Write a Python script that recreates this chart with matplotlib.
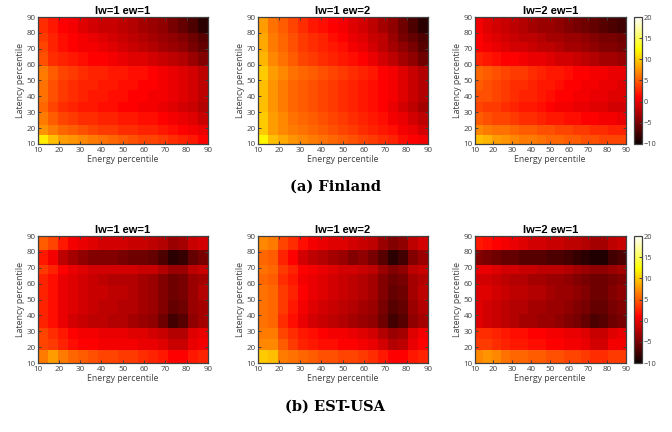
import matplotlib
matplotlib.use('Agg')
import matplotlib.pyplot as plt

titles = ['lw=1 ew=1', 'lw=1 ew=2', 'lw=2 ew=1']
captions = ['(a) Finland', '(b) EST-USA']
ticks = [10, 20, 30, 40, 50, 60, 70, 80, 90]
cbar_ticks = [-10, -5, 0, 5, 10, 15, 20]

x_edges = [10, 14.7, 19.4, 24.1, 28.8, 33.5, 38.2, 42.9, 47.6, 52.4, 57.1, 61.8, 66.5, 71.2, 75.9, 80.6, 85.3, 90]
y_edges_fi = [10, 15.5, 22, 30, 36.5, 44, 50, 59, 68, 74, 80, 90]
y_edges_us = [10, 18.5, 25, 32, 41, 50, 59, 66, 72, 81, 90]

# rows go bottom to top
fi_11 = [
    [11.5, 9.5, 8, 7.5, 7, 6.5, 6, 5.5, 5, 4.5, 4, 4, 3.5, 3, 2.5, 2, 1],
    [7.5, 6.5, 5.5, 5, 4.5, 4, 3.5, 3.5, 3, 3, 2.5, 2.5, 2, 1.5, 1, 0.5, 0],
    [6.5, 5, 4, 3.5, 3, 3, 2.5, 2.5, 2, 2, 1.5, 1.5, 1, 0.5, 0, -0.5, -1.5],
    [5.5, 4, 3, 2.5, 2, 2, 1.5, 1.5, 1, 1, 0.5, 0.5, 0, -0.5, -1, -1.5, -2.5],
    [6, 4.5, 3.5, 3, 2.5, 2, 2, 1.5, 1.5, 1, 1, 0.5, 0.5, 0, -0.5, -1, -2],
    [6, 4.5, 3.5, 3, 2.5, 2.5, 2, 2, 1.5, 1.5, 1, 1, 0.5, 0, -0.5, -1, -2],
    [6.5, 5, 4, 3.5, 3, 2.5, 2.5, 2, 2, 1.5, 1.5, 1, 0.5, 0, -0.5, -1, -2],
    [4.5, 3, 2.5, 2, 1.5, 1, 1, 0.5, 0, -0.5, -0.5, -1, -1.5, -2, -2.5, -3.5, -4.5],
    [4, 2.5, 1.5, 1, 0.5, 0.5, 0, -0.5, -1, -1.5, -2, -2.5, -3, -3.5, -4, -5, -6],
    [3.5, 2.5, 1.5, 1, 0.5, 0, -0.5, -1, -1.5, -2, -2.5, -3, -3.5, -4, -4.5, -5.5, -6.5],
    [3, 2, 1, 0.5, -0.5, -1, -1.5, -1.5, -2, -2.5, -3, -3.5, -4, -5, -6, -7, -8.5],
]
fi_12 = [
    [12, 9.5, 8.5, 7.5, 7, 6.5, 6, 5.5, 5, 4.5, 4, 3.5, 3, 2.5, 1.5, 1, 0.5],
    [10, 8, 7, 6.5, 6, 5.5, 5, 4.5, 4, 3.5, 3, 2.5, 2, 1.5, 0.5, 0, -1],
    [10, 8, 7, 6, 5.5, 5, 4.5, 4, 3.5, 3, 2.5, 2, 1.5, 0.5, 0, -1, -2],
    [9.5, 7.5, 6.5, 5.5, 5, 4.5, 4, 3.5, 3, 2.5, 2, 1.5, 1, 0, -1, -2, -3],
    [9.5, 7.5, 6.5, 5.5, 5, 4.5, 4, 3.5, 3, 2.5, 2, 1.5, 1, 0.5, -0.5, -1.5, -2.5],
    [9.5, 7.5, 6.5, 5.5, 5, 4.5, 4, 3.5, 3, 2.5, 2, 1.5, 1, 0.5, -0.5, -1.5, -2.5],
    [10, 8, 7, 6, 5.5, 5, 4.5, 4, 3.5, 3, 2.5, 2, 1, 0.5, -0.5, -1.5, -2.5],
    [9, 7, 6, 5, 4, 3.5, 3, 2.5, 2, 1.5, 1, 0, -1, -2, -3, -4, -5.5],
    [8.5, 6.5, 5.5, 4.5, 3.5, 3, 2.5, 2, 1.5, 0.5, 0, -1, -2, -3, -4, -5, -6.5],
    [8.5, 6.5, 5.5, 4.5, 3.5, 3, 2.5, 1.5, 1, 0, -0.5, -1.5, -2, -3.5, -5, -6, -7],
    [8, 6, 5, 4, 3, 2, 1.5, 1, 0.5, -0.5, -1, -2, -3, -4, -5.5, -7, -8.5],
]
fi_21 = [
    [9.5, 9, 8, 7.5, 7, 6.5, 6.5, 6, 5.5, 5.5, 5, 5, 4.5, 4.5, 4, 4, 4],
    [7, 6.5, 6, 6, 5.5, 5, 5, 4.5, 4.5, 4, 4, 3.5, 3.5, 3, 3, 2.5, 2.5],
    [5, 4.5, 4, 4, 3.5, 3, 3, 2.5, 2, 2, 1.5, 1.5, 1, 1, 0.5, 0.5, 0],
    [4, 3.5, 3.5, 3, 2.5, 2, 2, 1.5, 1, 0.5, 0.5, 0, 0, -0.5, -0.5, -1, -1],
    [4.5, 4.5, 4, 3.5, 3, 2.5, 2.5, 2, 1.5, 1, 1, 0.5, 0.5, 0, 0, -0.5, -0.5],
    [5, 4.5, 4, 3.5, 3, 3, 2.5, 2, 2, 1.5, 1, 1, 0.5, 0.5, 0, 0, -0.5],
    [5.5, 5, 4.5, 4, 3.5, 3.5, 3, 2.5, 2, 2, 1.5, 1, 1, 0.5, 0.5, 0, 0],
    [2.5, 2, 1.5, 1, 1, 0.5, 0, 0, -0.5, -1, -1, -1.5, -2, -2.5, -3, -3, -3.5],
    [1, 0.5, 0, -0.5, -1, -1, -1.5, -2, -2, -2.5, -3, -3, -3.5, -4, -4.5, -4.5, -5],
    [1, 0, -0.5, -1, -1.5, -2, -2, -2.5, -3, -3, -3.5, -3.5, -4, -4.5, -5, -5, -5.5],
    [0.5, -0.5, -1, -1.5, -2, -2.5, -3, -3.5, -3.5, -4, -4.5, -5, -5.5, -6, -6.5, -7, -7.5],
]
us_11 = [
    [6.5, 8, 6.5, 5.5, 5, 4.5, 4, 4, 3.5, 3.5, 3, 2.5, 2, 1, 1, 2, 2.5],
    [4, 3.5, 2.5, 1.5, 1, 1, 0.5, 0.5, 0.5, 0.5, 0, 0, -0.5, -1.5, -1.5, 0, 0.5],
    [4, 3, 2, 1, 0.5, 0.5, 0, 0, 0, -0.5, -0.5, -1, -1.5, -2.5, -2.5, -0.5, 0],
    [2.5, 1.5, 0, -1, -1.5, -2, -2, -2.5, -2.5, -3, -3.5, -4, -5.5, -7.5, -6.5, -4, -3],
    [2.5, 1.5, 0, -0.5, -1, -1.5, -2, -2, -2.5, -2.5, -3, -3.5, -4.5, -6, -5.5, -3.5, -3],
    [2.5, 1.5, 0, -0.5, -1, -1.5, -1.5, -2, -2, -2.5, -3, -3.5, -4.5, -5.5, -5, -3.5, -2.5],
    [2.5, 1.5, 0, -0.5, -1, -1.5, -2, -2.5, -2.5, -2.5, -3, -3.5, -4.5, -5.5, -5, -3.5, -3],
    [3.5, 2.5, 1, 0, -0.5, -1, -1, -1, -1, -1, -1.5, -1.5, -2.5, -3.5, -3.5, -2, -1.5],
    [2, 0.5, -2, -3, -4, -4.5, -4.5, -4.5, -5, -5.5, -5.5, -6, -7, -8.5, -8, -6, -5],
    [5, 4, 2, 0.5, 0, -0.5, -1, -1, -1, -1.5, -1.5, -2, -2.5, -3.5, -3, -1.5, -1],
]
us_12 = [
    [10, 9.5, 6.5, 6, 5.5, 5, 4.5, 4.5, 4, 4, 3.5, 3, 2, 1, 1, 2, 2.5],
    [7, 7, 5, 3.5, 2.5, 2, 1.5, 1.5, 1, 1, 0.5, 0, -1, -2.5, -2, 0, 1],
    [6.5, 6.5, 4, 3, 2, 1.5, 1, 0.5, 0.5, 0, -0.5, -1, -2.5, -3.5, -3, -0.5, 0.5],
    [6, 5.5, 3, 1.5, 0, -1, -1.5, -2, -2.5, -3, -3.5, -4, -5.5, -7.5, -6.5, -4, -3],
    [6, 5.5, 3.5, 2, 0.5, -0.5, -1, -1.5, -2, -2.5, -3, -3.5, -5, -6.5, -6, -3.5, -2.5],
    [6, 5.5, 3.5, 2.5, 1, 0, -0.5, -1, -1.5, -2, -2.5, -3, -4.5, -6, -5.5, -3, -2],
    [5.5, 5, 3, 2, 0.5, 0, -0.5, -1, -1.5, -2, -2.5, -3, -4.5, -5.5, -5, -3, -2.5],
    [6, 5.5, 3.5, 2.5, 1, 0.5, 0, -0.5, -1, -1, -1.5, -2, -3.5, -4.5, -4, -2, -1.5],
    [5.5, 5, 2.5, 1, -1, -2, -2.5, -3, -3.5, -4.5, -4, -5, -6.5, -8.5, -7.5, -4.5, -3.5],
    [7, 6.5, 4, 3, 1.5, 0.5, 0, -0.5, -0.5, -1, -1.5, -2, -3.5, -4.5, -4, -2, -1],
]
us_21 = [
    [7, 7.5, 7, 6, 5.5, 5.5, 5, 5, 4.5, 4.5, 4, 4, 3.5, 3, 3, 3.5, 3.5],
    [3.5, 3.5, 3, 2.5, 2, 2, 1.5, 1.5, 1, 1, 0.5, 0.5, 0, -1, -1, 0.5, 0.5],
    [3, 3, 2.5, 2, 1.5, 1.5, 1, 1, 0.5, 0.5, 0, 0, -0.5, -1.5, -1.5, -0.5, 0],
    [-0.5, -1, -1.5, -2, -2.5, -3, -3, -3.5, -3.5, -4, -4.5, -5, -6, -7, -6.5, -5.5, -5],
    [-0.5, -1, -1.5, -2, -2.5, -2.5, -3, -3, -3.5, -3.5, -4, -4.5, -5, -6, -6, -5, -4.5],
    [-0.5, -0.5, -1, -1.5, -2, -2, -2.5, -2.5, -3, -3.5, -3.5, -4, -4.5, -5.5, -5.5, -4.5, -4],
    [-1, -1, -1.5, -2, -2.5, -2.5, -3, -3, -3.5, -3.5, -4, -4.5, -5, -5.5, -5.5, -5, -4.5],
    [0, 0, -0.5, -1, -1, -1.5, -1.5, -2, -2, -2, -2.5, -3, -3.5, -4, -4, -3.5, -3],
    [-4.5, -5, -5.5, -6, -6, -6.5, -6.5, -6.5, -7, -7, -7.5, -8, -8.5, -9, -9, -7.5, -7],
    [2, 1.5, 1, 0.5, 0, -0.5, -1, -1, -1.5, -1.5, -2, -2, -2.5, -3, -3, -2, -1.5],
]

grey = '#404040'
W, H = 672.0, 432.0

plt.rcParams['font.family'] = ['Open Sans', 'DejaVu Sans']
fig = plt.figure(figsize=(6.72, 4.32), dpi=100)


def add_heatmap(box, data, y_edges, title):
    x0, y0, x1, y1 = box
    ax = fig.add_axes([x0 / W, 1 - y1 / H, (x1 - x0) / W, (y1 - y0) / H])
    mesh = ax.pcolormesh(x_edges, y_edges, data, cmap='hot', vmin=-10, vmax=20)
    ax.set_xlim(10, 90)
    ax.set_ylim(10, 90)
    ax.set_xticks(ticks)
    ax.set_yticks(ticks)
    ax.tick_params(direction='in', top=True, right=True, length=2, width=0.7,
                   labelsize=5.8, colors=grey)
    ax.tick_params(axis='x', pad=2.5)
    ax.tick_params(axis='y', pad=1.5)
    ax.set_xlabel('Energy percentile', fontsize=6.3, color=grey, labelpad=0.5)
    ax.set_ylabel('Latency percentile', fontsize=6.3, color=grey, labelpad=1)
    ax.set_title(title, fontsize=8, fontweight='bold', family='Liberation Sans', pad=2)
    for s in ax.spines.values():
        s.set_color(grey)
        s.set_linewidth(0.9)
    return mesh


def add_colorbar(mesh, y0, y1):
    cax = fig.add_axes([634 / W, 1 - y1 / H, 8 / W, (y1 - y0) / H])
    cb = fig.colorbar(mesh, cax=cax)
    cb.set_ticks(cbar_ticks)
    cax.tick_params(direction='in', length=2, width=0.7, labelsize=5.4, colors=grey, pad=1)
    cb.outline.set_edgecolor(grey)
    cb.outline.set_linewidth(0.9)


top = [fi_11, fi_12, fi_21]
bottom = [us_11, us_12, us_21]
xs = [(37.5, 208), (257.5, 428), (474.5, 626)]

for i in range(3):
    m1 = add_heatmap((xs[i][0], 17, xs[i][1], 144), top[i], y_edges_fi, titles[i])
    m2 = add_heatmap((xs[i][0], 236, xs[i][1], 363), bottom[i], y_edges_us, titles[i])

add_colorbar(m1, 17, 144)
add_colorbar(m2, 236, 363)

fig.text(335 / W, 1 - 187 / H, captions[0], ha='center', va='center', fontsize=10.5,
         fontweight='bold', family='DejaVu Serif')
fig.text(335 / W, 1 - 407 / H, captions[1], ha='center', va='center', fontsize=10.5,
         fontweight='bold', family='DejaVu Serif')

fig.savefig('out.png', dpi=100)
